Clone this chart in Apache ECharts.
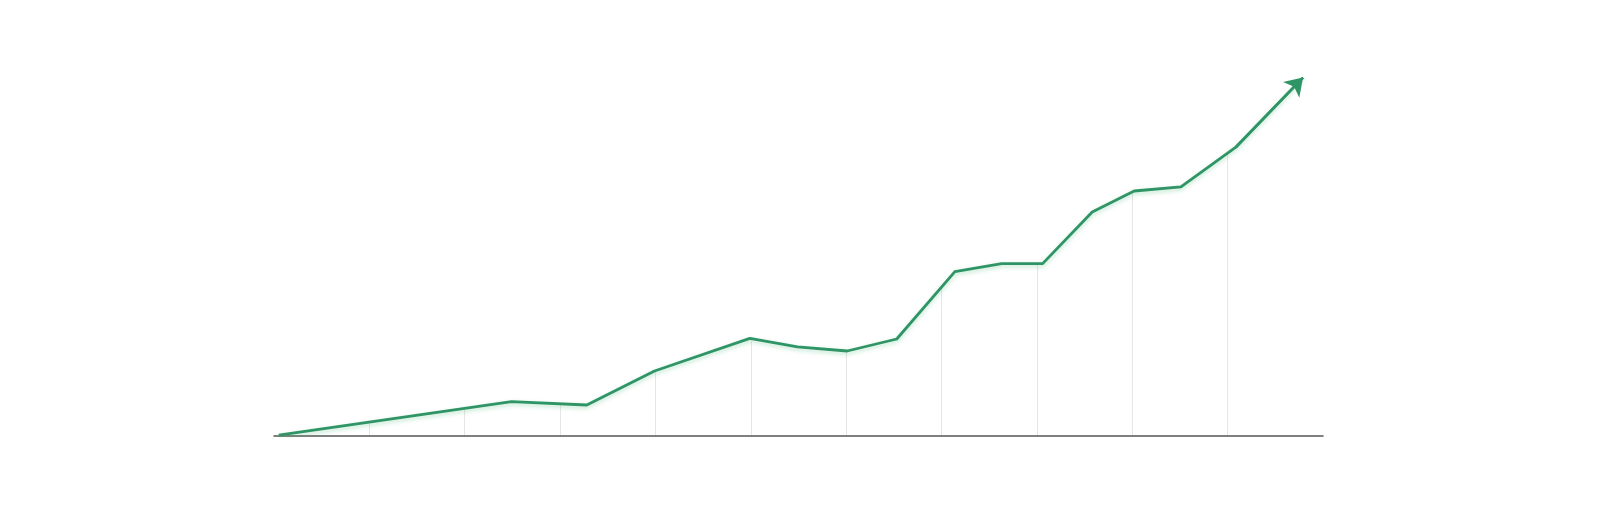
<!DOCTYPE html>
<html>
<head>
<meta charset="utf-8">
<script src="https://cdn.jsdelivr.net/npm/echarts@6/dist/echarts.min.js"></script>
<style>
  html, body { margin: 0; padding: 0; background: #fff; }
  #main { width: 1600px; height: 512px; }
</style>
</head>
<body>
<div id="main"></div>
<script>
// x positions of the line's corners (in grid steps) and their heights
var x_vals = [0.05, 2.49, 3.28, 3.99, 4.99, 5.49, 6.01, 6.53, 7.14, 7.63, 8.06, 8.58, 9.02, 9.51, 10.09, 10.79];
var y_vals = [0.2, 8.6, 7.75, 16.25, 24.4, 22.3, 21.25, 24.25, 41.1, 43.1, 43.1, 56, 61.25, 62.3, 72.3, 89.6];
var x_max = 11;
var y_max = 100;

var lineColor = '#2f9466';

var init_chart = function() {
    var myChart = echarts.init(document.getElementById('main'));
    var data = [];
    for (var i = 0; i < x_vals.length; i++) {
        data.push([x_vals[i], y_vals[i]]);
    }
    var n = data.length;
    var option = {
        backgroundColor: '#ffffff',
        animation: false,
        grid: { left: 274, right: 277, top: 36, bottom: 76 },
        xAxis: {
            type: 'value',
            min: 0,
            max: x_max,
            interval: 1,
            axisLine: { show: true, lineStyle: { color: '#555', width: 1.5 } },
            axisTick: { show: false },
            axisLabel: { show: false },
            splitLine: {
                show: true,
                showMinLine: false,
                showMaxLine: false,
                lineStyle: { color: '#e6e6e6', width: 1 }
            }
        },
        yAxis: {
            type: 'value',
            min: 0,
            max: y_max,
            axisLine: { show: false },
            axisTick: { show: false },
            axisLabel: { show: false },
            splitLine: { show: false }
        },
        series: [{
            type: 'line',
            data: data,
            symbol: 'none',
            z: 3,
            lineStyle: {
                color: lineColor,
                width: 2.8,
                shadowColor: 'rgba(60,180,110,0.35)',
                shadowBlur: 4,
                shadowOffsetY: 2
            },
            // white fill above the line hides the grid lines there
            areaStyle: { origin: 'end', color: '#ffffff', opacity: 1 },
            // last segment again, with an arrow head at its end
            markLine: {
                silent: true,
                symbol: ['none', 'arrow'],
                symbolSize: [17, 17],
                label: { show: false },
                lineStyle: { color: lineColor, width: 2.6, type: 'solid' },
                data: [[
                    { coord: data[n - 2] },
                    { coord: data[n - 1] }
                ]]
            }
        }]
    };
    myChart.setOption(option);
};

init_chart();
</script>
</body>
</html>
